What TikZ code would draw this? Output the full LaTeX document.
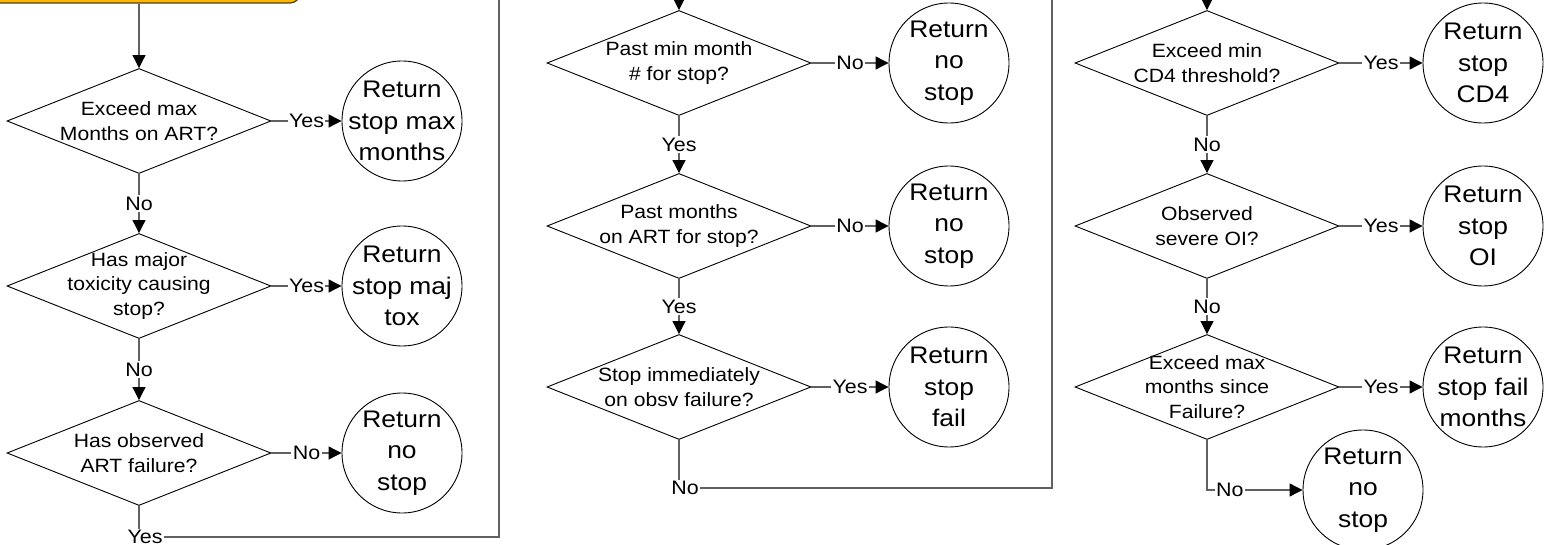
\documentclass[tikz,border=0pt]{standalone}
\usepackage{fontspec}
\setmainfont{Liberation Sans}[FakeStretch=1.1]
\usetikzlibrary{shapes.geometric,arrows.meta,calc}
\begin{document}
\begin{tikzpicture}[x=1pt,y=-1pt,
  dec/.style={diamond, draw=black, line width=0.9pt, minimum width=264pt, minimum height=105pt, inner sep=0pt},
  dtxt/.style={align=center, font=\fontsize{19.2}{24.3}\selectfont, inner sep=0pt},
  term/.style={circle, draw=black, line width=0.9pt, minimum size=120pt, inner sep=0pt},
  ttxt/.style={align=center, font=\fontsize{24}{31.5}\selectfont, inner sep=0pt},
  conn/.style={draw=black!62, line width=1.1pt, -{Triangle[length=13pt,width=13pt,color=black]}},
  lbl/.style={fill=white, inner sep=1.5pt, font=\fontsize{19.5}{22}\selectfont},
  startbox/.style={rectangle, rounded corners=10pt, draw=black!75, line width=1.2pt, fill={rgb,255:red,255;green,184;blue,0}, minimum width=330pt, minimum height=66pt}
]
\useasboundingbox (0,0) rectangle (1551,545);
\clip (0,0) rectangle (1551,545);

% start box (cropped)
\node[startbox] (start) at (135,-30) {};

% left column
\node[dec] (d1) at (139,121) {};
\node[dtxt] at (d1.center) {Exceed max\\Months on ART?};
\node[dec] (d2) at (139,286) {};
\node[dtxt] at (d2.center) {Has major\\toxicity causing\\stop?};
\node[dec] (d3) at (139,453) {};
\node[dtxt] at (d3.center) {Has observed\\ART failure?};

\node[term] (c1) at (402,121) {};
\node[ttxt] at (c1.center) {Return\\stop max\\months};
\node[term] (c2) at (402,286) {};
\node[ttxt] at (c2.center) {Return\\stop maj\\tox};
\node[term] (c3) at (402,453) {};
\node[ttxt] at (c3.center) {Return\\no\\stop};

% middle column
\node[dec] (m1) at (679,63) {};
\node[dtxt] at (m1.center) {Past min month\\\# for stop?};
\node[dec] (m2) at (679,226) {};
\node[dtxt] at (m2.center) {Past months\\on ART for stop?};
\node[dec] (m3) at (679,387) {};
\node[dtxt] at (m3.center) {Stop immediately\\on obsv failure?};

\node[term] (e1) at (949,63) {};
\node[ttxt] at (e1.center) {Return\\no\\stop};
\node[term] (e2) at (949,226) {};
\node[ttxt] at (e2.center) {Return\\no\\stop};
\node[term] (e3) at (949,387) {};
\node[ttxt] at (e3.center) {Return\\stop\\fail};

% right column
\node[dec] (r1) at (1207,63) {};
\node[dtxt] at (r1.center) {Exceed min\\CD4 threshold?};
\node[dec] (r2) at (1207,226) {};
\node[dtxt] at (r2.center) {Observed\\severe OI?};
\node[dec] (r3) at (1207,387) {};
\node[dtxt] at (r3.center) {Exceed max\\months since\\Failure?};

\node[term] (f1) at (1483,63) {};
\node[ttxt] at (f1.center) {Return\\stop\\CD4};
\node[term] (f2) at (1483,226) {};
\node[ttxt] at (f2.center) {Return\\stop\\OI};
\node[term] (f3) at (1483,387) {};
\node[ttxt] at (f3.center) {Return\\stop fail\\months};
\node[term] (f4) at (1363,490) {};
\node[ttxt] at (f4.center) {Return\\no\\stop};

% helper coordinates
\coordinate (cornA) at (499,537);
\coordinate (upA) at (499,-40);
\coordinate (cornB) at (1052,488);
\coordinate (upB) at (1052,-40);

% left connectors
\draw[conn] (start.south -| d1.north) -- (d1.north);
\draw[conn] (d1.south) -- node[lbl]{No} (d2.north);
\draw[conn] (d2.south) -- node[lbl]{No} (d3.north);
\draw[conn] (d1.east) -- node[lbl]{Yes} (c1.west);
\draw[conn] (d2.east) -- node[lbl]{Yes} (c2.west);
\draw[conn] (d3.east) -- node[lbl]{No} (c3.west);
\draw[conn] (d3.south) |- node[lbl,pos=0.5,xshift=6pt]{Yes} (cornA) -- (upA) -| (m1.north);

% middle connectors
\draw[conn] (m1.south) -- node[lbl]{Yes} (m2.north);
\draw[conn] (m2.south) -- node[lbl]{Yes} (m3.north);
\draw[conn] (m1.east) -- node[lbl]{No} (e1.west);
\draw[conn] (m2.east) -- node[lbl]{No} (e2.west);
\draw[conn] (m3.east) -- node[lbl]{Yes} (e3.west);
\draw[conn] (m3.south) |- node[lbl,pos=0.5,xshift=6pt]{No} (cornB) -- (upB) -| (r1.north);

% right connectors
\draw[conn] (r1.south) -- node[lbl]{No} (r2.north);
\draw[conn] (r2.south) -- node[lbl]{No} (r3.north);
\draw[conn] (r1.east) -- node[lbl]{Yes} (f1.west);
\draw[conn] (r2.east) -- node[lbl]{Yes} (f2.west);
\draw[conn] (r3.east) -- node[lbl]{Yes} (f3.west);
\draw[conn] (r3.south) |- node[lbl,pos=0.62]{No} (f4.west);
\end{tikzpicture}
\end{document}
